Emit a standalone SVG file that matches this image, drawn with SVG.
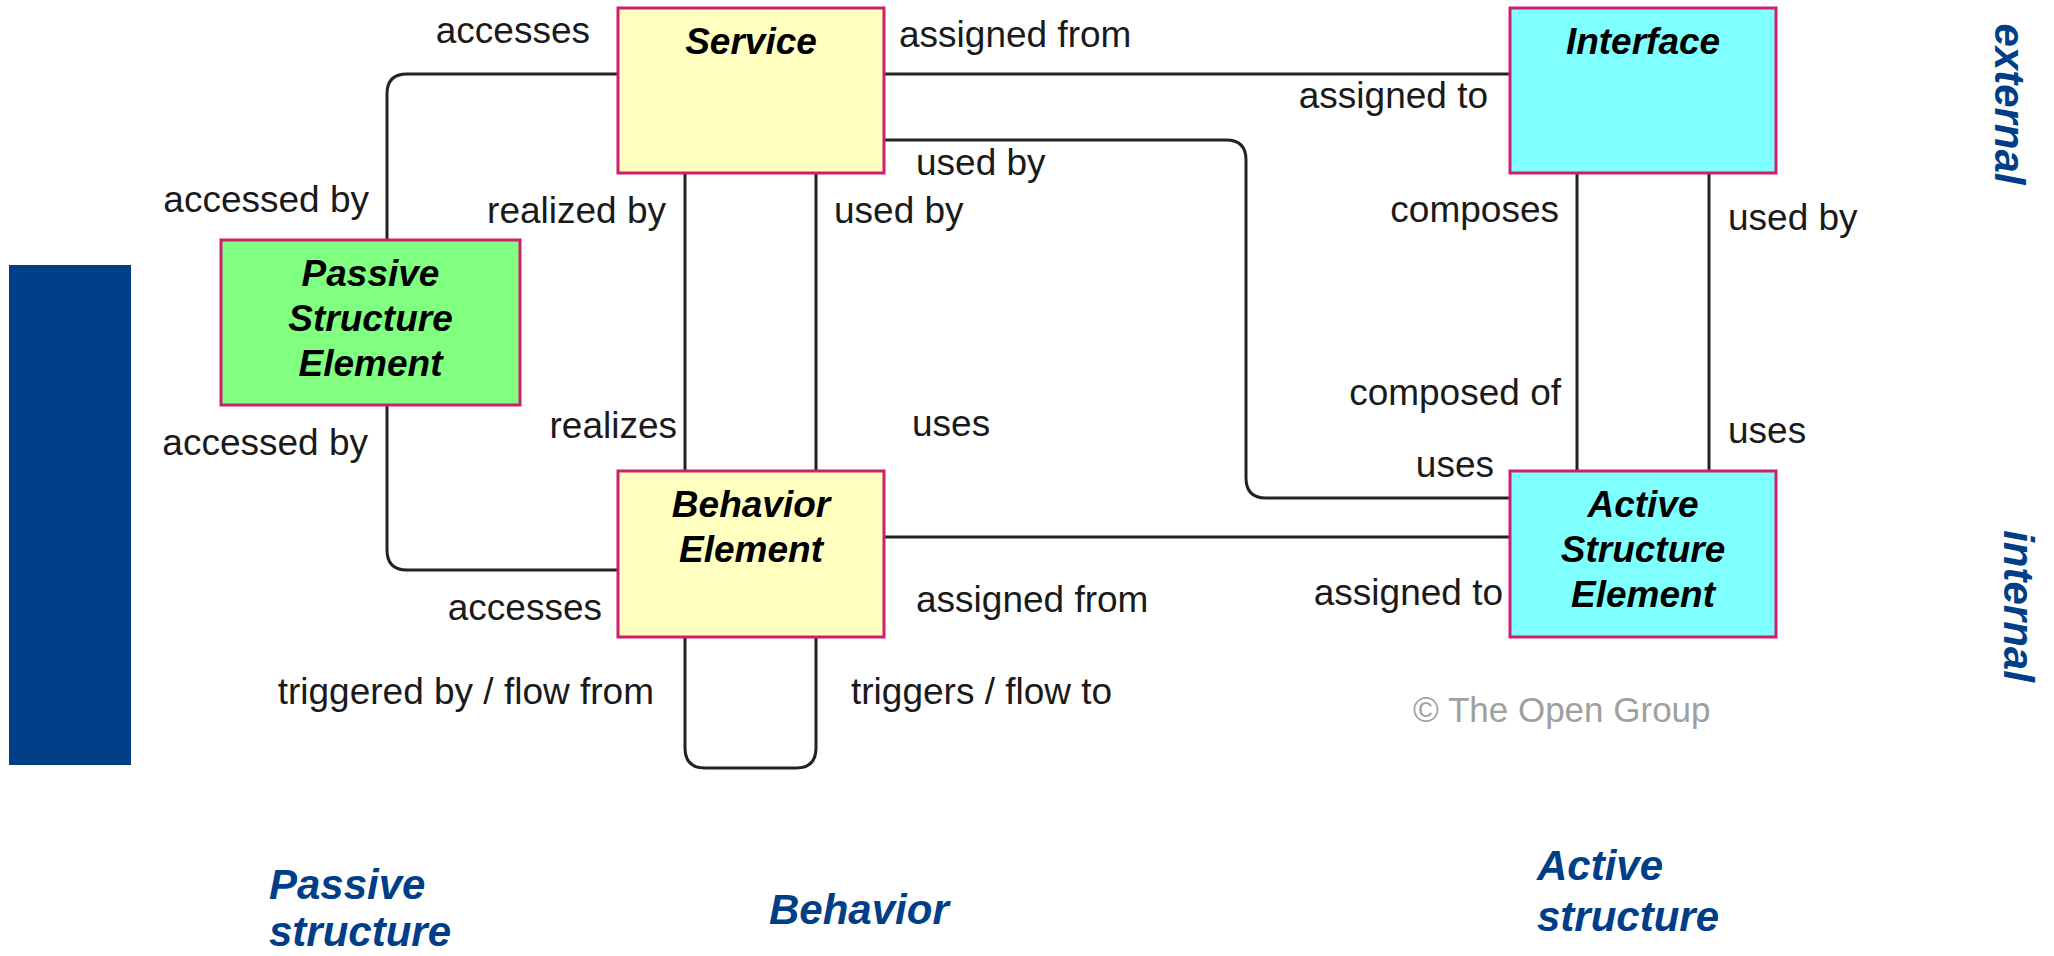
<svg xmlns="http://www.w3.org/2000/svg" width="2054" height="956" viewBox="0 0 2054 956">
<style>
.box{stroke:#cc1f6e;stroke-width:3}
.yel{fill:#ffffc0}.grn{fill:#80ff80}.cyn{fill:#80ffff}
.nt{font-family:"Liberation Sans",Arial,sans-serif;font-size:37px;font-weight:bold;font-style:italic;fill:#000;text-anchor:middle}
.lb{font-family:"Liberation Sans",Arial,sans-serif;font-size:37px;fill:#1a1a1a}
.e{text-anchor:end}
.ax{font-family:"Liberation Sans",Arial,sans-serif;font-size:42px;font-weight:bold;font-style:italic;fill:#003f88}
.cn{fill:none;stroke:#222;stroke-width:3}
</style>
<rect width="2054" height="956" fill="#fff"/>
<rect x="9" y="265" width="122" height="500" fill="#003f88"/>
<g id="connectors">
<path class="cn" d="M618,74 H407 Q387,74 387,94 V240"/>
<path class="cn" d="M387,405 V550 Q387,570 407,570 H618"/>
<path class="cn" d="M884,74 H1510"/>
<path class="cn" d="M884,140 H1226 Q1246,140 1246,160 V478 Q1246,498 1266,498 H1510"/>
<path class="cn" d="M884,537 H1510"/>
<path class="cn" d="M685,173 V471 M816,173 V471"/>
<path class="cn" d="M685,637 V748 Q685,768 705,768 H796 Q816,768 816,748 V637"/>
<path class="cn" d="M1577,173 V471 M1709,173 V471"/>
</g>
<g id="service"><rect class="box yel" x="618" y="8" width="266" height="165"/><text class="nt" x="751" y="54">Service</text></g>
<g id="interface"><rect class="box cyn" x="1510" y="8" width="266" height="165"/><text class="nt" x="1643" y="54">Interface</text></g>
<g id="passive"><rect class="box grn" x="221" y="240" width="299" height="165"/><text class="nt" x="370.5" y="286">Passive</text><text class="nt" x="370.5" y="331">Structure</text><text class="nt" x="370.5" y="376">Element</text></g>
<g id="behavior"><rect class="box yel" x="618" y="471" width="266" height="166"/><text class="nt" x="751" y="517">Behavior</text><text class="nt" x="751" y="562">Element</text></g>
<g id="active"><rect class="box cyn" x="1510" y="471" width="266" height="166"/><text class="nt" x="1643" y="517">Active</text><text class="nt" x="1643" y="562">Structure</text><text class="nt" x="1643" y="607">Element</text></g>
<g id="labels">
<text class="lb e" x="590" y="43">accesses</text>
<text class="lb" x="899" y="47">assigned from</text>
<text class="lb e" x="1488" y="108">assigned to</text>
<text class="lb" x="916" y="175">used by</text>
<text class="lb e" x="369" y="212">accessed by</text>
<text class="lb e" x="666" y="223">realized by</text>
<text class="lb" x="834" y="223">used by</text>
<text class="lb e" x="1559" y="222">composes</text>
<text class="lb" x="1728" y="230">used by</text>
<text class="lb e" x="368" y="455">accessed by</text>
<text class="lb e" x="677" y="438">realizes</text>
<text class="lb" x="912" y="436">uses</text>
<text class="lb e" x="1561" y="405">composed of</text>
<text class="lb" x="1728" y="443">uses</text>
<text class="lb e" x="1494" y="477">uses</text>
<text class="lb e" x="602" y="620">accesses</text>
<text class="lb" x="916" y="612">assigned from</text>
<text class="lb e" x="1503" y="605">assigned to</text>
<text class="lb e" x="654" y="704">triggered by / flow from</text>
<text class="lb" x="851" y="704">triggers / flow to</text>
<text x="1413" y="722" style="font-family:'Liberation Sans',Arial,sans-serif;font-size:35px;fill:#a0a0a0">© The Open Group</text>
</g>
<g id="axes">
<text class="ax" x="269" y="899">Passive</text>
<text class="ax" x="269" y="946">structure</text>
<text class="ax" x="769" y="924">Behavior</text>
<text class="ax" x="1537" y="880">Active</text>
<text class="ax" x="1537" y="931">structure</text>
<text class="ax" transform="translate(1995,104) rotate(90)" text-anchor="middle">external</text>
<text class="ax" transform="translate(2004,606) rotate(90)" text-anchor="middle">internal</text>
</g>
</svg>
